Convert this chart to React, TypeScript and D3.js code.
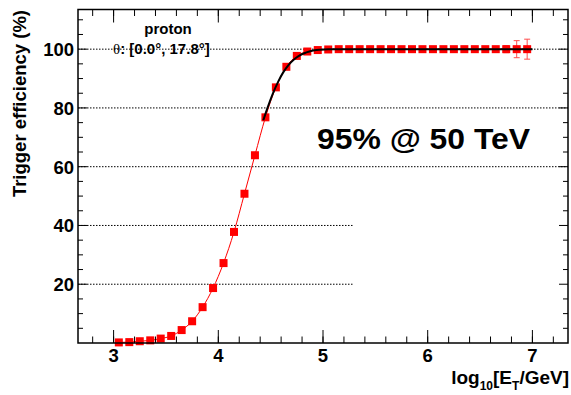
import React from "react";
import * as d3 from "d3";

// log10(E_T/GeV) bin centres
const energies = [
  3.05, 3.15, 3.25, 3.35, 3.45, 3.55, 3.65, 3.75, 3.85, 3.95,
  4.05, 4.15, 4.25, 4.35, 4.45, 4.55, 4.65, 4.75, 4.85, 4.95,
  5.05, 5.15, 5.25, 5.35, 5.45, 5.55, 5.65, 5.75, 5.85, 5.95,
  6.05, 6.15, 6.25, 6.35, 6.45, 6.55, 6.65, 6.75, 6.85, 6.95,
];
// trigger efficiency (%)
const efficiency = [
  0.2, 0.3, 0.6, 0.9, 1.5, 2.4, 4.4, 7.4, 12.2, 18.7,
  27.2, 37.8, 50.8, 63.9, 76.8, 87.0, 94.0, 97.7, 99.2, 99.7,
  99.9, 100, 100, 100, 100, 100, 100, 100, 100, 100,
  100, 100, 100, 100, 100, 100, 100, 100, 100, 100,
];
const errors = [
  0, 0, 0, 0, 0, 0, 0, 0, 0, 0,
  0, 0, 0, 0, 0, 0, 0, 0, 0, 0,
  0, 0, 0, 0, 0, 0, 0, 0, 0, 0,
  0, 0, 0, 0, 0, 0.3, 0.6, 1.2, 2.9, 3.4,
];
// fitted turn-on curve
const fitX = [4.43, 4.47, 4.52, 4.57, 4.62, 4.67, 4.72, 4.77, 4.82, 4.87, 4.92, 4.97, 5.05, 5.2, 7.0];
const fitY = [75.8, 80.0, 84.8, 88.8, 92.1, 94.6, 96.4, 97.7, 98.6, 99.2, 99.6, 99.8, 99.95, 100, 100];

const xTicks = [3, 4, 5, 6, 7];
const yTicks = [20, 40, 60, 80, 100];
const gridFull = [60, 80, 100];
const gridShort = [20, 40];
const gridShortEnd = 5.296;

const FONT = "'Liberation Sans', Arial, Helvetica, sans-serif";

export default function App() {
  const W = 571, H = 395;
  const L = 78, R = 568, T = 9.5, B = 343;
  const x = d3.scaleLinear().domain([2.66, 7.34]).range([L, R]);
  const y = d3.scaleLinear().domain([0, 113.5]).range([B, T]);

  const xMinor = d3.range(28, 74, 2).map((v) => v / 10).filter((v) => x(v) > L && x(v) < R);
  const yMinor = d3.range(5, 114, 5).filter((v) => v % 20 !== 0);

  const pts = energies.map((e, i) => [e, efficiency[i]] as [number, number]);
  const line = d3
    .line<[number, number]>()
    .x((d) => x(d[0]))
    .y((d) => y(d[1]))
    .curve(d3.curveMonotoneX);
  const fitPts = fitX.map((v, i) => [v, fitY[i]] as [number, number]);

  const ms = 8;
  const majX = 13, minX = 6.5, majY = 9, minY = 5;

  return (
    <svg
      width={W}
      height={H}
      style={{ position: "absolute", left: 0, top: 0, background: "#fff" }}
      fontFamily={FONT}
    >
      <rect x={0} y={0} width={W} height={H} fill="#fff" />
      {/* grid lines */}
      {gridFull.map((g) => (
        <line key={"gf" + g} x1={L} x2={R} y1={y(g)} y2={y(g)} stroke="#000" strokeWidth={1} strokeDasharray="1.5 1.5" />
      ))}
      {gridShort.map((g) => (
        <line key={"gs" + g} x1={L} x2={x(gridShortEnd)} y1={y(g)} y2={y(g)} stroke="#000" strokeWidth={1} strokeDasharray="1.5 1.5" />
      ))}

      {/* data line */}
      <path d={line(pts) || ""} fill="none" stroke="#ff0000" strokeWidth={1} />
      {/* error bars */}
      {pts.map((p, i) =>
        errors[i] > 0 ? (
          <g key={"e" + i} stroke="#ff2020" strokeWidth={1} opacity={0.8}>
            <line x1={x(p[0])} x2={x(p[0])} y1={y(p[1] + errors[i])} y2={y(p[1] - errors[i])} />
            <line x1={x(p[0]) - 3} x2={x(p[0]) + 3} y1={y(p[1] + errors[i])} y2={y(p[1] + errors[i])} />
            <line x1={x(p[0]) - 3} x2={x(p[0]) + 3} y1={y(p[1] - errors[i])} y2={y(p[1] - errors[i])} />
          </g>
        ) : null
      )}
      {/* markers */}
      {pts.map((p, i) => (
        <rect key={"m" + i} x={x(p[0]) - ms / 2} y={y(p[1]) - ms / 2} width={ms} height={ms} fill="#ff0000" />
      ))}
      {/* fit */}
      <path d={line(fitPts) || ""} fill="none" stroke="#000" strokeWidth={2} />

      {/* frame */}
      <rect x={L} y={T} width={R - L} height={B - T} fill="none" stroke="#000" strokeWidth={1.5} />

      {/* x ticks */}
      {xTicks.map((t) => (
        <g key={"xt" + t} stroke="#000" strokeWidth={1}>
          <line x1={x(t)} x2={x(t)} y1={B} y2={B - majX} />
          <line x1={x(t)} x2={x(t)} y1={T} y2={T + majX} />
        </g>
      ))}
      {xMinor.map((t) => (
        <g key={"xm" + t} stroke="#000" strokeWidth={1}>
          <line x1={x(t)} x2={x(t)} y1={B} y2={B - minX} />
          <line x1={x(t)} x2={x(t)} y1={T} y2={T + minX} />
        </g>
      ))}
      {/* y ticks */}
      {yTicks.map((t) => (
        <g key={"yt" + t} stroke="#000" strokeWidth={1}>
          <line x1={L} x2={L + majY} y1={y(t)} y2={y(t)} />
          <line x1={R} x2={R - majY} y1={y(t)} y2={y(t)} />
        </g>
      ))}
      {yMinor.map((t) => (
        <g key={"ym" + t} stroke="#000" strokeWidth={1}>
          <line x1={L} x2={L + minY} y1={y(t)} y2={y(t)} />
          <line x1={R} x2={R - minY} y1={y(t)} y2={y(t)} />
        </g>
      ))}

      {/* tick labels */}
      {xTicks.map((t) => (
        <text key={"xl" + t} x={x(t)} y={362} textAnchor="middle" fontSize={18.5} fontWeight="bold" fill="#000">
          {t}
        </text>
      ))}
      {yTicks.map((t) => (
        <text key={"yl" + t} x={74} y={y(t) + 6.8} textAnchor="end" fontSize={18.5} fontWeight="bold" fill="#000">
          {t}
        </text>
      ))}

      {/* axis titles */}
      <text
        transform={`translate(26,10) rotate(-90)`}
        textAnchor="end"
        fontSize={18.5}
        fontWeight="bold"
        fill="#000"
      >
        Trigger efficiency (%)
      </text>
      <text x={569} y={384} textAnchor="end" fontSize={19} fontWeight="bold" fill="#000">
        log
        <tspan fontSize={12} dy={6}>10</tspan>
        <tspan dy={-6}>[E</tspan>
        <tspan fontSize={12} dy={6}>T</tspan>
        <tspan dy={-6}>/GeV]</tspan>
      </text>

      {/* annotations */}
      <text x={168} y={34} textAnchor="middle" fontSize={15} fontWeight="bold" fill="#000">
        proton
      </text>
      <text x={113} y={54} fontSize={15} fontWeight="bold" fill="#000">
        <tspan fontFamily="'Liberation Serif', 'DejaVu Serif', serif" fontWeight="normal">θ</tspan>
        <tspan>: [0.0°, 17.8°]</tspan>
      </text>
      <text x={317} y={148.5} fontSize={30} fontWeight="bold" fill="#000" textLength={213} lengthAdjust="spacingAndGlyphs">
        95% @ 50 TeV
      </text>
    </svg>
  );
}
